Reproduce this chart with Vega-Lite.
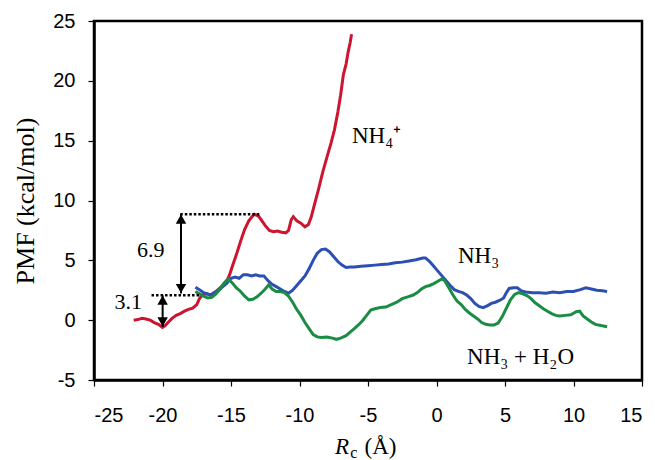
{
  "$schema": "https://vega.github.io/schema/vega-lite/v6.json",
  "width": 548,
  "height": 359,
  "autosize": {"type": "none"},
  "padding": {"left": 94, "top": 21, "right": 13, "bottom": 80},
  "background": "white",
  "config": {
    "view": {"stroke": "black", "strokeWidth": 2.5},
    "axis": {
      "grid": false,
      "domainColor": "black",
      "domainWidth": 2.5,
      "tickColor": "black",
      "tickWidth": 1.2,
      "tickSize": 6,
      "labelFont": "Liberation Sans",
      "labelFontSize": 20,
      "labelColor": "black",
      "titleFont": "Liberation Serif",
      "titleFontWeight": "normal",
      "titleColor": "black"
    }
  },
  "datasets": {
    "curves": [
      {"s":"NH4+","x":-22.1,"y":0.0},{"s":"NH4+","x":-21.8,"y":0.05},{"s":"NH4+","x":-21.5,"y":0.15},{"s":"NH4+","x":-21.2,"y":0.1},{"s":"NH4+","x":-20.9,"y":0.0},{"s":"NH4+","x":-20.6,"y":-0.2},{"s":"NH4+","x":-20.3,"y":-0.35},{"s":"NH4+","x":-20.0,"y":-0.6},{"s":"NH4+","x":-19.8,"y":-0.45},{"s":"NH4+","x":-19.6,"y":-0.2},{"s":"NH4+","x":-19.3,"y":0.15},{"s":"NH4+","x":-19.0,"y":0.4},{"s":"NH4+","x":-18.7,"y":0.55},{"s":"NH4+","x":-18.4,"y":0.75},{"s":"NH4+","x":-18.1,"y":0.9},{"s":"NH4+","x":-17.8,"y":1.0},{"s":"NH4+","x":-17.5,"y":1.3},{"s":"NH4+","x":-17.3,"y":1.8},{"s":"NH4+","x":-17.1,"y":2.1},{"s":"NH4+","x":-16.8,"y":2.2},{"s":"NH4+","x":-16.5,"y":2.1},{"s":"NH4+","x":-16.2,"y":2.3},{"s":"NH4+","x":-15.9,"y":2.6},{"s":"NH4+","x":-15.6,"y":2.9},{"s":"NH4+","x":-15.3,"y":3.3},{"s":"NH4+","x":-15.1,"y":3.8},{"s":"NH4+","x":-14.9,"y":4.5},{"s":"NH4+","x":-14.6,"y":5.5},{"s":"NH4+","x":-14.3,"y":6.6},{"s":"NH4+","x":-14.0,"y":7.6},{"s":"NH4+","x":-13.7,"y":8.3},{"s":"NH4+","x":-13.5,"y":8.6},{"s":"NH4+","x":-13.3,"y":8.85},{"s":"NH4+","x":-13.0,"y":8.7},{"s":"NH4+","x":-12.8,"y":8.4},{"s":"NH4+","x":-12.5,"y":7.9},{"s":"NH4+","x":-12.2,"y":7.5},{"s":"NH4+","x":-11.9,"y":7.4},{"s":"NH4+","x":-11.6,"y":7.45},{"s":"NH4+","x":-11.3,"y":7.35},{"s":"NH4+","x":-11.0,"y":7.3},{"s":"NH4+","x":-10.8,"y":7.5},{"s":"NH4+","x":-10.6,"y":8.4},{"s":"NH4+","x":-10.45,"y":8.65},{"s":"NH4+","x":-10.2,"y":8.3},{"s":"NH4+","x":-9.9,"y":8.1},{"s":"NH4+","x":-9.6,"y":7.8},{"s":"NH4+","x":-9.35,"y":8.0},{"s":"NH4+","x":-9.15,"y":8.6},{"s":"NH4+","x":-8.9,"y":9.7},{"s":"NH4+","x":-8.6,"y":11.0},{"s":"NH4+","x":-8.3,"y":12.4},{"s":"NH4+","x":-8.0,"y":13.6},{"s":"NH4+","x":-7.7,"y":14.8},{"s":"NH4+","x":-7.45,"y":15.9},{"s":"NH4+","x":-7.2,"y":17.4},{"s":"NH4+","x":-7.0,"y":18.8},{"s":"NH4+","x":-6.8,"y":20.5},{"s":"NH4+","x":-6.6,"y":21.4},{"s":"NH4+","x":-6.45,"y":22.4},{"s":"NH4+","x":-6.3,"y":23.2},{"s":"NH4+","x":-6.2,"y":23.9},
      {"s":"NH3","x":-17.6,"y":2.75},{"s":"NH3","x":-17.3,"y":2.55},{"s":"NH3","x":-17.0,"y":2.3},{"s":"NH3","x":-16.7,"y":2.2},{"s":"NH3","x":-16.5,"y":2.1},{"s":"NH3","x":-16.2,"y":2.3},{"s":"NH3","x":-15.9,"y":2.5},{"s":"NH3","x":-15.6,"y":2.8},{"s":"NH3","x":-15.3,"y":3.1},{"s":"NH3","x":-15.0,"y":3.5},{"s":"NH3","x":-14.7,"y":3.6},{"s":"NH3","x":-14.4,"y":3.5},{"s":"NH3","x":-14.1,"y":3.8},{"s":"NH3","x":-13.8,"y":3.8},{"s":"NH3","x":-13.5,"y":3.7},{"s":"NH3","x":-13.2,"y":3.8},{"s":"NH3","x":-12.9,"y":3.7},{"s":"NH3","x":-12.6,"y":3.7},{"s":"NH3","x":-12.3,"y":3.3},{"s":"NH3","x":-12.0,"y":3.0},{"s":"NH3","x":-11.7,"y":2.8},{"s":"NH3","x":-11.4,"y":2.6},{"s":"NH3","x":-11.1,"y":2.4},{"s":"NH3","x":-10.8,"y":2.25},{"s":"NH3","x":-10.5,"y":2.5},{"s":"NH3","x":-10.2,"y":2.9},{"s":"NH3","x":-9.9,"y":3.3},{"s":"NH3","x":-9.6,"y":3.7},{"s":"NH3","x":-9.3,"y":4.3},{"s":"NH3","x":-9.0,"y":5.0},{"s":"NH3","x":-8.7,"y":5.6},{"s":"NH3","x":-8.4,"y":5.9},{"s":"NH3","x":-8.1,"y":5.95},{"s":"NH3","x":-7.8,"y":5.7},{"s":"NH3","x":-7.5,"y":5.3},{"s":"NH3","x":-7.2,"y":4.9},{"s":"NH3","x":-6.9,"y":4.6},{"s":"NH3","x":-6.6,"y":4.4},{"s":"NH3","x":-6.3,"y":4.45},{"s":"NH3","x":-6.0,"y":4.45},{"s":"NH3","x":-5.5,"y":4.5},{"s":"NH3","x":-5.0,"y":4.55},{"s":"NH3","x":-4.5,"y":4.6},{"s":"NH3","x":-4.0,"y":4.65},{"s":"NH3","x":-3.5,"y":4.7},{"s":"NH3","x":-3.0,"y":4.8},{"s":"NH3","x":-2.5,"y":4.85},{"s":"NH3","x":-2.0,"y":4.95},{"s":"NH3","x":-1.5,"y":5.05},{"s":"NH3","x":-1.0,"y":5.2},{"s":"NH3","x":-0.8,"y":5.2},{"s":"NH3","x":-0.5,"y":4.9},{"s":"NH3","x":-0.2,"y":4.5},{"s":"NH3","x":0.1,"y":4.1},{"s":"NH3","x":0.4,"y":3.7},{"s":"NH3","x":0.7,"y":3.3},{"s":"NH3","x":1.0,"y":2.9},{"s":"NH3","x":1.3,"y":2.55},{"s":"NH3","x":1.6,"y":2.4},{"s":"NH3","x":1.9,"y":2.3},{"s":"NH3","x":2.2,"y":2.1},{"s":"NH3","x":2.5,"y":1.8},{"s":"NH3","x":2.8,"y":1.4},{"s":"NH3","x":3.1,"y":1.15},{"s":"NH3","x":3.4,"y":1.05},{"s":"NH3","x":3.7,"y":1.2},{"s":"NH3","x":4.0,"y":1.4},{"s":"NH3","x":4.3,"y":1.5},{"s":"NH3","x":4.6,"y":1.65},{"s":"NH3","x":4.9,"y":1.85},{"s":"NH3","x":5.1,"y":2.3},{"s":"NH3","x":5.3,"y":2.65},{"s":"NH3","x":5.6,"y":2.7},{"s":"NH3","x":5.9,"y":2.7},{"s":"NH3","x":6.2,"y":2.45},{"s":"NH3","x":6.5,"y":2.35},{"s":"NH3","x":7.0,"y":2.3},{"s":"NH3","x":7.5,"y":2.3},{"s":"NH3","x":8.0,"y":2.25},{"s":"NH3","x":8.5,"y":2.35},{"s":"NH3","x":9.0,"y":2.3},{"s":"NH3","x":9.5,"y":2.4},{"s":"NH3","x":10.0,"y":2.4},{"s":"NH3","x":10.5,"y":2.55},{"s":"NH3","x":10.9,"y":2.7},{"s":"NH3","x":11.3,"y":2.6},{"s":"NH3","x":11.7,"y":2.5},{"s":"NH3","x":12.1,"y":2.45},{"s":"NH3","x":12.45,"y":2.4},
      {"s":"NH3+H2O","x":-17.6,"y":2.4},{"s":"NH3+H2O","x":-17.3,"y":2.2},{"s":"NH3+H2O","x":-17.0,"y":2.0},{"s":"NH3+H2O","x":-16.7,"y":1.85},{"s":"NH3+H2O","x":-16.4,"y":1.9},{"s":"NH3+H2O","x":-16.1,"y":2.2},{"s":"NH3+H2O","x":-15.8,"y":2.6},{"s":"NH3+H2O","x":-15.5,"y":3.1},{"s":"NH3+H2O","x":-15.2,"y":3.45},{"s":"NH3+H2O","x":-14.9,"y":3.1},{"s":"NH3+H2O","x":-14.6,"y":2.7},{"s":"NH3+H2O","x":-14.3,"y":2.4},{"s":"NH3+H2O","x":-14.0,"y":2.0},{"s":"NH3+H2O","x":-13.7,"y":1.7},{"s":"NH3+H2O","x":-13.4,"y":1.75},{"s":"NH3+H2O","x":-13.1,"y":1.95},{"s":"NH3+H2O","x":-12.8,"y":2.25},{"s":"NH3+H2O","x":-12.5,"y":2.6},{"s":"NH3+H2O","x":-12.25,"y":2.95},{"s":"NH3+H2O","x":-12.0,"y":2.6},{"s":"NH3+H2O","x":-11.7,"y":2.4},{"s":"NH3+H2O","x":-11.4,"y":2.4},{"s":"NH3+H2O","x":-11.1,"y":2.3},{"s":"NH3+H2O","x":-10.8,"y":2.0},{"s":"NH3+H2O","x":-10.5,"y":1.5},{"s":"NH3+H2O","x":-10.2,"y":0.9},{"s":"NH3+H2O","x":-9.9,"y":0.4},{"s":"NH3+H2O","x":-9.6,"y":-0.2},{"s":"NH3+H2O","x":-9.3,"y":-0.7},{"s":"NH3+H2O","x":-9.0,"y":-1.2},{"s":"NH3+H2O","x":-8.7,"y":-1.4},{"s":"NH3+H2O","x":-8.4,"y":-1.45},{"s":"NH3+H2O","x":-8.0,"y":-1.4},{"s":"NH3+H2O","x":-7.6,"y":-1.5},{"s":"NH3+H2O","x":-7.3,"y":-1.6},{"s":"NH3+H2O","x":-7.0,"y":-1.5},{"s":"NH3+H2O","x":-6.6,"y":-1.3},{"s":"NH3+H2O","x":-6.3,"y":-1.0},{"s":"NH3+H2O","x":-6.0,"y":-0.7},{"s":"NH3+H2O","x":-5.7,"y":-0.4},{"s":"NH3+H2O","x":-5.4,"y":-0.05},{"s":"NH3+H2O","x":-5.1,"y":0.4},{"s":"NH3+H2O","x":-4.8,"y":0.85},{"s":"NH3+H2O","x":-4.5,"y":0.95},{"s":"NH3+H2O","x":-4.1,"y":1.05},{"s":"NH3+H2O","x":-3.7,"y":1.1},{"s":"NH3+H2O","x":-3.3,"y":1.3},{"s":"NH3+H2O","x":-2.9,"y":1.5},{"s":"NH3+H2O","x":-2.5,"y":1.8},{"s":"NH3+H2O","x":-2.1,"y":1.95},{"s":"NH3+H2O","x":-1.7,"y":2.1},{"s":"NH3+H2O","x":-1.4,"y":2.3},{"s":"NH3+H2O","x":-1.1,"y":2.6},{"s":"NH3+H2O","x":-0.8,"y":2.8},{"s":"NH3+H2O","x":-0.5,"y":2.9},{"s":"NH3+H2O","x":-0.2,"y":3.05},{"s":"NH3+H2O","x":0.1,"y":3.25},{"s":"NH3+H2O","x":0.4,"y":3.45},{"s":"NH3+H2O","x":0.6,"y":3.3},{"s":"NH3+H2O","x":0.9,"y":2.7},{"s":"NH3+H2O","x":1.2,"y":2.1},{"s":"NH3+H2O","x":1.5,"y":1.6},{"s":"NH3+H2O","x":1.8,"y":1.3},{"s":"NH3+H2O","x":2.1,"y":0.9},{"s":"NH3+H2O","x":2.4,"y":0.6},{"s":"NH3+H2O","x":2.7,"y":0.35},{"s":"NH3+H2O","x":3.0,"y":0.1},{"s":"NH3+H2O","x":3.3,"y":-0.2},{"s":"NH3+H2O","x":3.6,"y":-0.35},{"s":"NH3+H2O","x":3.9,"y":-0.4},{"s":"NH3+H2O","x":4.2,"y":-0.4},{"s":"NH3+H2O","x":4.5,"y":-0.25},{"s":"NH3+H2O","x":4.8,"y":0.3},{"s":"NH3+H2O","x":5.1,"y":1.0},{"s":"NH3+H2O","x":5.4,"y":1.7},{"s":"NH3+H2O","x":5.7,"y":2.15},{"s":"NH3+H2O","x":6.0,"y":2.3},{"s":"NH3+H2O","x":6.3,"y":2.2},{"s":"NH3+H2O","x":6.6,"y":2.05},{"s":"NH3+H2O","x":6.9,"y":1.8},{"s":"NH3+H2O","x":7.2,"y":1.45},{"s":"NH3+H2O","x":7.5,"y":1.2},{"s":"NH3+H2O","x":7.8,"y":0.95},{"s":"NH3+H2O","x":8.1,"y":0.75},{"s":"NH3+H2O","x":8.4,"y":0.55},{"s":"NH3+H2O","x":8.7,"y":0.4},{"s":"NH3+H2O","x":9.0,"y":0.35},{"s":"NH3+H2O","x":9.4,"y":0.4},{"s":"NH3+H2O","x":9.8,"y":0.45},{"s":"NH3+H2O","x":10.2,"y":0.7},{"s":"NH3+H2O","x":10.45,"y":0.75},{"s":"NH3+H2O","x":10.7,"y":0.35},{"s":"NH3+H2O","x":11.0,"y":0.1},{"s":"NH3+H2O","x":11.3,"y":-0.15},{"s":"NH3+H2O","x":11.6,"y":-0.35},{"s":"NH3+H2O","x":12.0,"y":-0.45},{"s":"NH3+H2O","x":12.45,"y":-0.55}
    ],
    "dotted": [
      {"x":-18.7,"x2":-12.85,"y":8.86},
      {"x":-20.8,"x2":-17.3,"y":2.09}
    ],
    "arrows": [
      {"x":-18.65,"y":8.86,"y2":2.23},
      {"x":-19.99,"y":2.09,"y2":-0.56}
    ],
    "heads_up": [
      {"x":-18.65,"y":8.86},
      {"x":-19.99,"y":2.09}
    ],
    "heads_down": [
      {"x":-18.65,"y":2.23},
      {"x":-19.99,"y":-0.56}
    ],
    "labels": [
      {"t":"6.9","x":-20.86,"y":5.9},
      {"t":"3.1","x":-22.5,"y":1.53}
    ],
    "series_labels": [
      {"t":"NH₄⁺","x":-6.17,"y":14.79},
      {"t":"NH₃","x":1.57,"y":4.76},
      {"t":"NH₃ + H₂O","x":2.23,"y":-3.68}
    ],
    "xtitle_r": [
      {"t":"R","x":-7.41,"y":-11.2}
    ],
    "xtitle_unit": [
      {"t":"(Å)","x":-5.25,"y":-11.2}
    ],
    "xtitle_sub": [
      {"t":"c","x":-6.3,"y":-11.5}
    ]
  },
  "layer": [
    {
      "data": {"name": "curves"},
      "mark": {"type": "line", "strokeWidth": 3, "interpolate": "linear"},
      "encoding": {
        "x": {"field": "x", "type": "quantitative",
          "scale": {"domain": [-25, 15], "nice": false, "zero": false},
          "axis": {"values": [-25,-22.5,-20,-17.5,-15,-12.5,-10,-7.5,-5,-2.5,0,2.5,5,7.5,10,12.5,15],
                   "labelExpr": "datum.value % 5 == 0 ? '' + datum.value : ''",
                   "labelPadding": 19, "title": null}},
        "y": {"field": "y", "type": "quantitative",
          "scale": {"domain": [-5, 25], "nice": false, "zero": false},
          "axis": {"values": [-5,-2.5,0,2.5,5,7.5,10,12.5,15,17.5,20,22.5,25],
                   "labelExpr": "datum.value % 5 == 0 ? '' + datum.value : ''",
                   "labelPadding": 13, "title": "PMF (kcal/mol)", "titleFontSize": 26, "titlePadding": 14}},
        "color": {"field": "s", "type": "nominal",
          "scale": {"domain": ["NH4+","NH3","NH3+H2O"], "range": ["#cc1530","#2c4fb3","#1b8c44"]},
          "legend": null}
      }
    },
    {
      "data": {"name": "dotted"},
      "mark": {"type": "rule", "color": "black", "strokeWidth": 2.5, "strokeDash": [2.5, 2]},
      "encoding": {
        "x": {"field": "x", "type": "quantitative"},
        "x2": {"field": "x2"},
        "y": {"field": "y", "type": "quantitative"}
      }
    },
    {
      "data": {"name": "arrows"},
      "mark": {"type": "rule", "color": "black", "strokeWidth": 2},
      "encoding": {
        "x": {"field": "x", "type": "quantitative"},
        "y": {"field": "y", "type": "quantitative"},
        "y2": {"field": "y2"}
      }
    },
    {
      "data": {"name": "heads_up"},
      "mark": {"type": "point", "shape": "triangle-up", "filled": true, "color": "black", "opacity": 1, "size": 110, "yOffset": 5},
      "encoding": {
        "x": {"field": "x", "type": "quantitative"},
        "y": {"field": "y", "type": "quantitative"}
      }
    },
    {
      "data": {"name": "heads_down"},
      "mark": {"type": "point", "shape": "triangle-down", "filled": true, "color": "black", "opacity": 1, "size": 110, "yOffset": -5},
      "encoding": {
        "x": {"field": "x", "type": "quantitative"},
        "y": {"field": "y", "type": "quantitative"}
      }
    },
    {
      "data": {"name": "labels"},
      "mark": {"type": "text", "font": "Liberation Serif", "fontSize": 22, "color": "black", "align": "center", "baseline": "middle"},
      "encoding": {
        "x": {"field": "x", "type": "quantitative"},
        "y": {"field": "y", "type": "quantitative"},
        "text": {"field": "t"}
      }
    },
    {
      "data": {"name": "series_labels"},
      "mark": {"type": "text", "font": "Liberation Serif", "fontSize": 23, "color": "black", "align": "left", "baseline": "alphabetic"},
      "encoding": {
        "x": {"field": "x", "type": "quantitative"},
        "y": {"field": "y", "type": "quantitative"},
        "text": {"field": "t"}
      }
    },
    {
      "data": {"name": "xtitle_r"},
      "mark": {"type": "text", "font": "Liberation Serif", "fontSize": 23, "fontStyle": "italic", "color": "black", "align": "left", "baseline": "alphabetic"},
      "encoding": {
        "x": {"field": "x", "type": "quantitative"},
        "y": {"field": "y", "type": "quantitative"},
        "text": {"field": "t"}
      }
    },
    {
      "data": {"name": "xtitle_unit"},
      "mark": {"type": "text", "font": "Liberation Serif", "fontSize": 23, "color": "black", "align": "left", "baseline": "alphabetic"},
      "encoding": {
        "x": {"field": "x", "type": "quantitative"},
        "y": {"field": "y", "type": "quantitative"},
        "text": {"field": "t"}
      }
    },
    {
      "data": {"name": "xtitle_sub"},
      "mark": {"type": "text", "font": "Liberation Serif", "fontSize": 16, "color": "black", "align": "left", "baseline": "alphabetic"},
      "encoding": {
        "x": {"field": "x", "type": "quantitative"},
        "y": {"field": "y", "type": "quantitative"},
        "text": {"field": "t"}
      }
    }
  ]
}
